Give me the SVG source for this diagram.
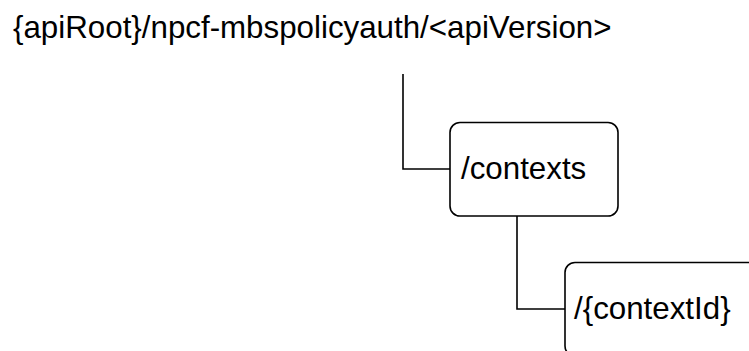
<svg xmlns="http://www.w3.org/2000/svg" width="749" height="351" viewBox="0 0 749 351">
<style>
text{font-family:"Liberation Sans",Arial,sans-serif;font-size:31.3px;fill:#000}
.box{fill:#fff;stroke:#000;stroke-width:1.6}
.conn{fill:none;stroke:#000;stroke-width:1.6}
</style>
<rect width="749" height="351" fill="#fff"/>
<g id="root"><text x="13" y="38">{apiRoot}/npcf-mbspolicyauth/&lt;apiVersion&gt;</text></g>
<g id="connectors">
<path class="conn" d="M403 74V169H450"/>
<path class="conn" d="M517 216V309H565"/>
</g>
<g id="contexts"><rect class="box" x="450" y="122.5" width="168" height="93.5" rx="10"/><text x="461" y="179">/contexts</text></g>
<g id="contextId"><rect class="box" x="565" y="262.5" width="200" height="93.5" rx="10"/><text x="574" y="319">/{contextId}</text></g>
</svg>
